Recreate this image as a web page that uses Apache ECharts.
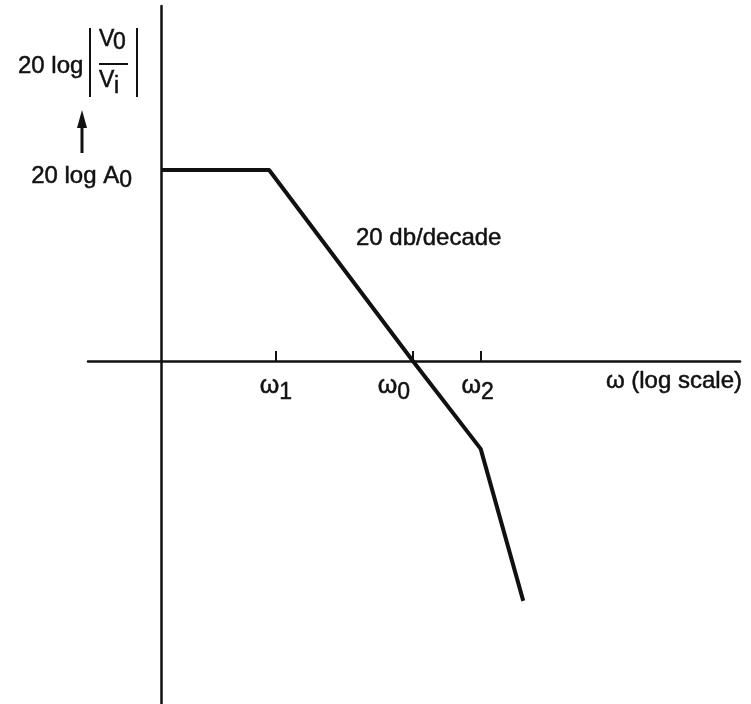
<!DOCTYPE html>
<html>
<head>
<meta charset="utf-8">
<script src="https://cdn.jsdelivr.net/npm/echarts@6/dist/echarts.min.js"></script>
<style>
  html, body { margin: 0; padding: 0; background: #ffffff; }
  #chart { width: 751px; height: 704px; }
</style>
</head>
<body>
<div id="chart"></div>
<script>
// Straight-line (asymptotic) Bode magnitude plot.
// x: log10(ω) in decades, measured from the vertical axis; y: gain in dB.
const breakLogW = [0, 0.94, 2.19, 2.78, 3.15];
const gainDb    = [25, 25, 0, -11.5, -31.4];

// Marked frequencies on the ω axis
const tickLogW  = [1.0, 2.19, 2.78];
const tickSub   = ['1', '0', '2'];
const tickShift = [0, -19, -3];   // ω0 label sits left of the crossing line

// Marked level on the gain axis
const levelDb   = [25];
const levelText = ['20 log A'];
const levelSub  = ['0'];

const slopeText = '20 db/decade';
const axisTitle = 'ω (log scale)';

const INK = '#111111';
const FONT = '"Liberation Sans", Arial, Helvetica, sans-serif';
// slightly heavier lettering
const HEAVY = { stroke: INK, lineWidth: 0.5 };

const chart = echarts.init(document.getElementById('chart'), null, { renderer: 'canvas' });

const lineData = breakLogW.map((x, i) => [x, gainDb[i]]);

chart.setOption({
  backgroundColor: '#ffffff',
  animation: false,
  grid: { left: 88, right: 11, top: 6, bottom: 0, containLabel: false, outerBoundsMode: 'none' },
  xAxis: {
    type: 'value',
    min: -0.635,
    max: 5.035,
    name: axisTitle,
    nameLocation: 'end',
    nameGap: 2,
    nameTextStyle: {
      color: INK, fontFamily: FONT, fontSize: 24,
      textBorderColor: INK, textBorderWidth: 0.5,
      align: 'right', verticalAlign: 'top', padding: [8, 0, 0, 0]
    },
    axisLine: { show: true, onZero: true, lineStyle: { color: INK, width: 2.5 } },
    axisTick: {
      show: true, inside: true, length: 10,
      customValues: tickLogW,
      lineStyle: { color: INK, width: 2 }
    },
    axisLabel: { show: false },
    splitLine: { show: false }
  },
  yAxis: {
    type: 'value',
    min: -44.9,
    max: 46.47,
    axisLine: { show: true, onZero: true, lineStyle: { color: INK, width: 2.5 } },
    axisTick: { show: false },
    axisLabel: { show: false },
    splitLine: { show: false }
  },
  series: [{
    type: 'line',
    data: lineData,
    symbol: 'none',
    lineStyle: { color: INK, width: 4, join: 'round' },
    silent: true
  }]
});

// Text with a subscript, built from two text pieces
const measureCtx = document.createElement('canvas').getContext('2d');
function textWidth(str, font) {
  measureCtx.font = font;
  return measureCtx.measureText(str).width;
}
function txt(str, x, y, size, extra) {
  return {
    type: 'text', x: x, y: y,
    style: Object.assign({ text: str, font: size + 'px ' + FONT, fill: INK,
      align: 'left', verticalAlign: 'middle' }, HEAVY, extra || {})
  };
}
function subscripted(main, sub, x, y, align, mainSize, subSize, drop) {
  const wMain = textWidth(main, mainSize + 'px ' + FONT);
  const wSub = textWidth(sub, subSize + 'px ' + FONT);
  const total = wMain + wSub;
  const left = align === 'center' ? x - total / 2 : (align === 'right' ? x - total : x);
  return [txt(main, left, y, mainSize), txt(sub, left + wMain, y + drop, subSize)];
}

// Tick and level labels, placed through the axes' own scales
const toPx = (x, y) => chart.convertToPixel({ xAxisIndex: 0, yAxisIndex: 0 }, [x, y]);

let labelGraphics = [];

tickLogW.forEach((v, i) => {
  const p = toPx(v, 0);
  labelGraphics = labelGraphics.concat(
    subscripted('ω', tickSub[i], p[0] + tickShift[i], p[1] + 25, 'center', 25, 23, 7)
  );
});

levelDb.forEach((v, i) => {
  const p = toPx(0, v);
  labelGraphics = labelGraphics.concat(
    subscripted(levelText[i], levelSub[i], p[0] - 29, p[1] + 6, 'right', 24, 23, 5)
  );
});

chart.setOption({
  graphic: labelGraphics.concat([
    // slope annotation
    txt(slopeText, 356, 238, 24),
    // gain axis title: 20 log |V0 / Vi|
    txt('20 log', 18, 66, 24),
    { type: 'line', shape: { x1: 90, y1: 28, x2: 90, y2: 97 }, style: { stroke: INK, lineWidth: 2 } },
    { type: 'line', shape: { x1: 137, y1: 28, x2: 137, y2: 97 }, style: { stroke: INK, lineWidth: 2 } },
    { type: 'line', shape: { x1: 99, y1: 64, x2: 128, y2: 64 }, style: { stroke: INK, lineWidth: 2 } },
    txt('V', 99, 40, 23),
    txt('0', 113, 43, 23),
    txt('V', 99, 81, 23),
    txt('i', 114, 87, 23),
    // upward arrow
    { type: 'line', shape: { x1: 82, y1: 124, x2: 82, y2: 153 }, style: { stroke: INK, lineWidth: 3 } },
    { type: 'polygon', shape: { points: [[82, 110], [77, 128], [87, 128]] }, style: { fill: INK } }
  ])
});
</script>
</body>
</html>
